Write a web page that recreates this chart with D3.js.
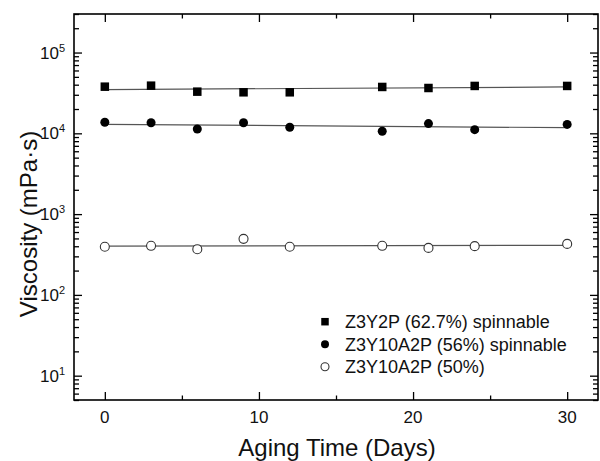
<!DOCTYPE html>
<html lang="en">
<head>
  <meta charset="utf-8">
  <title>Viscosity vs aging time</title>
  <style>
    body { margin: 0; background: #fff; }
    text { font-family: "Liberation Sans", Arial, sans-serif; fill: #111; }
  </style>
</head>
<body>
<script src="https://cdn.jsdelivr.net/npm/d3@7/dist/d3.min.js"></script>
<script>
// aging time in days
var days = [0, 3, 6, 9, 12, 18, 21, 24, 30];

// viscosity (mPa·s)
var z3y2p_627 = [37800, 38900, 32800, 32200, 32200, 37500, 36400, 38600, 38600];
var z3y10a2p_56 = [13700, 13500, 11300, 13500, 11900, 10600, 13200, 11100, 12900];
var z3y10a2p_50 = [394, 405, 368, 494, 394, 405, 382, 401, 428];

var legendNames = ["Z3Y2P (62.7%) spinnable", "Z3Y10A2P (56%) spinnable", "Z3Y10A2P (50%)"];
var xTicks = [0, 10, 20, 30];
var xMinor = [5, 15, 25];
var yTicks = [1e1, 1e2, 1e3, 1e4, 1e5];

var w = 600, h = 461;
var svg = d3.select("body").append("svg")
  .attr("width", w)
  .attr("height", h);

var x = d3.scaleLinear().domain([-2, 32]).range([74, 598]);
var y = d3.scaleLog().domain([5, 3e5]).range([400, 14]);

var series = [
  {vals: z3y2p_627, shape: "square"},
  {vals: z3y10a2p_56, shape: "dot"},
  {vals: z3y10a2p_50, shape: "open"}
];

// fit lines: least squares of log10(viscosity) against days
function fit(vals) {
  var ly = vals.map(function(v) { return Math.log10(v); });
  var mx = d3.mean(days), my = d3.mean(ly);
  var sxy = d3.sum(days, function(d, i) { return (d - mx) * (ly[i] - my); });
  var sxx = d3.sum(days, function(d) { return (d - mx) * (d - mx); });
  var b = sxy / sxx, a = my - b * mx;
  return function(t) { return Math.pow(10, a + b * t); };
}

var line = d3.line().x(function(d) { return x(d[0]); }).y(function(d) { return y(d[1]); });
series.forEach(function(s) {
  var f = fit(s.vals);
  var x0 = d3.min(days), x1 = d3.max(days);
  svg.append("path")
    .attr("d", line([[x0, f(x0)], [x1, f(x1)]]))
    .attr("fill", "none")
    .attr("stroke", "#555")
    .attr("stroke-width", 1.2);
});

function drawMarker(g, shape, cx, cy, size) {
  if (shape == "square") {
    g.append("rect")
      .attr("x", cx - size / 2).attr("y", cy - size / 2)
      .attr("width", size).attr("height", size)
      .attr("fill", "#000");
  } else {
    g.append("circle")
      .attr("cx", cx).attr("cy", cy).attr("r", size / 2)
      .attr("fill", shape == "dot" ? "#000" : "#fff")
      .attr("stroke", shape == "dot" ? "none" : "#333")
      .attr("stroke-width", 1.1);
  }
}

series.forEach(function(s) {
  var g = svg.append("g");
  s.vals.forEach(function(v, i) {
    drawMarker(g, s.shape, x(days[i]), y(v), s.shape == "square" ? 8.5 : 9);
  });
});

// axes, ticks point inward on all four sides
function styleAxis(g) {
  g.select(".domain").remove();
  g.selectAll(".tick line").attr("stroke", "#000").attr("stroke-width", 1.3);
}

var yMinor = y.ticks().filter(function(v) { return yTicks.indexOf(v) < 0; });

svg.append("g").attr("transform", "translate(0,400)")
  .call(d3.axisBottom(x).tickValues(xTicks).tickSize(-8).tickFormat(""))
  .call(styleAxis);
svg.append("g").attr("transform", "translate(0,400)")
  .call(d3.axisBottom(x).tickValues(xMinor).tickSize(-4.5).tickFormat(""))
  .call(styleAxis);
svg.append("g").attr("transform", "translate(0,14)")
  .call(d3.axisTop(x).tickValues(xTicks).tickSize(-8).tickFormat(""))
  .call(styleAxis);
svg.append("g").attr("transform", "translate(0,14)")
  .call(d3.axisTop(x).tickValues(xMinor).tickSize(-4.5).tickFormat(""))
  .call(styleAxis);

svg.append("g").attr("transform", "translate(74,0)")
  .call(d3.axisLeft(y).tickValues(yTicks).tickSize(-8).tickFormat(""))
  .call(styleAxis);
svg.append("g").attr("transform", "translate(74,0)")
  .call(d3.axisLeft(y).tickValues(yMinor).tickSize(-5).tickFormat(""))
  .call(styleAxis);
svg.append("g").attr("transform", "translate(598,0)")
  .call(d3.axisRight(y).tickValues(yTicks).tickSize(-8).tickFormat(""))
  .call(styleAxis);
svg.append("g").attr("transform", "translate(598,0)")
  .call(d3.axisRight(y).tickValues(yMinor).tickSize(-5).tickFormat(""))
  .call(styleAxis);

svg.append("rect")
  .attr("x", 74).attr("y", 14)
  .attr("width", 598 - 74).attr("height", 400 - 14)
  .attr("fill", "none")
  .attr("stroke", "#000")
  .attr("stroke-width", 1.6);

// tick labels
svg.selectAll(".xlab").data(xTicks).enter().append("text")
  .attr("x", function(d) { return x(d); })
  .attr("y", 423)
  .attr("text-anchor", "middle")
  .attr("font-size", 17)
  .text(function(d) { return d; });

var ylab = svg.selectAll(".ylab").data(yTicks).enter().append("text")
  .attr("x", 65)
  .attr("y", function(d) { return y(d) + 6; })
  .attr("text-anchor", "end")
  .attr("font-size", 17);
ylab.append("tspan").text("10");
ylab.append("tspan")
  .attr("dy", -7)
  .attr("font-size", 11)
  .text(function(d) { return Math.round(Math.log10(d)); });

// axis titles
svg.append("text")
  .attr("x", 337).attr("y", 456)
  .attr("text-anchor", "middle")
  .attr("font-size", 24)
  .text("Aging Time (Days)");

svg.append("text")
  .attr("transform", "translate(37,224) rotate(-90)")
  .attr("text-anchor", "middle")
  .attr("font-size", 24)
  .text("Viscosity (mPa·s)");

// legend
var lg = svg.append("g");
series.forEach(function(s, i) {
  var cy = 321.7 + i * 22.5;
  drawMarker(lg, s.shape, 325, cy, s.shape == "square" ? 7.5 : 8);
  lg.append("text")
    .attr("x", 345).attr("y", cy + 6.5)
    .attr("font-size", 18)
    .text(legendNames[i]);
});
</script>
</body>
</html>
